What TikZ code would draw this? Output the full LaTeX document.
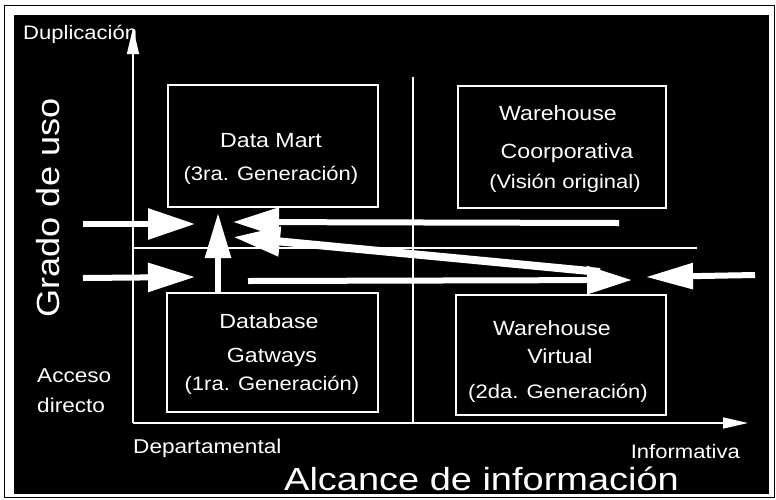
\documentclass[tikz,border=0pt]{standalone}
\usepackage{fontspec}
\setmainfont[FakeStretch=1.13]{Liberation Sans}
\usetikzlibrary{arrows.meta}
\tikzset{
  ln/.style={white, line width=1.2pt},
  axis/.style={white, line width=1.5pt},
  box/.style={draw=white, line width=1.2pt, inner sep=0pt, rectangle},
  ttl/.style={text=white, anchor=base, inner sep=0pt, font=\fontsize{20.5}{24}\selectfont},
  sub/.style={text=white, anchor=base, inner sep=0pt, font=\fontsize{19.5}{23}\selectfont},
  lbl/.style={text=white, inner sep=0pt, font=\fontsize{20}{24}\selectfont},
  big/.style={text=white, inner sep=0pt, font=\fontsize{32}{38}\selectfont},
  fat/.style={white, line width=6pt, -{Triangle[length=46pt, width=28pt]}}
}
\begin{document}
\begin{tikzpicture}[x=1pt,y=-1pt]
\useasboundingbox (0,0) rectangle (776,499);
\fill[white] (0,0) rectangle (776,499);
\draw[black, line width=1pt] (4,5) rectangle (774,497);
\fill[black] (14,15) rectangle (769,494);

% axes and dividers
\coordinate (O) at (133,423);
\coordinate (Ytop) at (133,28);
\coordinate (Xend) at (748,423);
\coordinate (Vt) at (413,77);
\coordinate (Vb) at (413,423);
\coordinate (Hl) at (133,248);
\coordinate (Hr) at (697,248);
\draw[axis, -{Triangle[length=26pt, width=12pt]}] (O) -- (Ytop);
\draw[axis, -{Triangle[length=25pt, width=11pt]}] (O) -- (Xend);
\draw[ln] (Vt) -- (Vb);
\draw[ln] (Hl) -- (Hr);

% boxes
\node[box, minimum width=210pt, minimum height=122pt] (dm) at (273,146) {};
\node[box, minimum width=208pt, minimum height=122pt] (wc) at (562,147) {};
\node[box, minimum width=211pt, minimum height=119pt] (dg) at (272.5,352.5) {};
\node[box, minimum width=210pt, minimum height=120pt] (wv) at (561,355) {};

% box texts
\node[ttl] (dm1) at (271,147) {Data Mart};
\node[sub] (dm2) at (271,180) {(3ra. Generación)};
\node[ttl] (wc1) at (558,120) {Warehouse};
\node[ttl] (wc2) at (567,158) {Coorporativa};
\node[sub] (wc3) at (565,188) {(Visión original)};
\node[ttl] (dg1) at (269,328) {Database};
\node[ttl] (dg2) at (272,362) {Gatways};
\node[sub] (dg3) at (272,390) {(1ra. Generación)};
\node[ttl] (wv1) at (552,335) {Warehouse};
\node[ttl] (wv2) at (560,363) {Virtual};
\node[sub] (wv3) at (558,398) {(2da. Generación)};

% axis labels
\node[lbl, anchor=base west, font=\fontsize{19.5}{23}\selectfont] (dup) at (23,39) {Duplicación};
\node[big, rotate=90, anchor=base] (grado) at (59,208) {Grado de uso};
\node[lbl, anchor=base west] (acc1) at (37,382) {Acceso};
\node[lbl, anchor=base west] (acc2) at (37,412) {directo};
\node[lbl, anchor=base west] (dep) at (133,453) {Departamental};
\node[lbl, anchor=base east, font=\fontsize{19.5}{23}\selectfont] (inf) at (740,458) {Informativa};
\node[big, anchor=base west] (alc) at (284,490) {\scalebox{1.05}[1]{Alcance de información}};

% thick arrows
\coordinate (a1s) at (83,224);  \coordinate (a1e) at (195,224);
\coordinate (a2s) at (83,278);  \coordinate (a2e) at (195,277);
\coordinate (a3s) at (218,293); \coordinate (a3e) at (218,213);
\coordinate (a4s) at (619,223); \coordinate (a4e) at (233,222);
\coordinate (a5s) at (600,272); \coordinate (a5e) at (233,237);
\coordinate (a6s) at (248,281); \coordinate (a6e) at (632,280);
\coordinate (a7s) at (755,275); \coordinate (a7e) at (646,277);
\draw[fat, -{Triangle[length=47pt, width=30pt]}] (a1s) -- (a1e);
\draw[fat, -{Triangle[length=47pt, width=28pt]}] (a2s) -- (a2e);
\draw[fat, -{Triangle[length=45pt, width=25pt]}] (a3s) -- (a3e);
\draw[fat] (a4s) -- (a4e);
\draw[fat, line width=8pt, -{Triangle[length=47pt, width=28pt]}] (a5s) -- (a5e);
\draw[fat, -{Triangle[length=45pt, width=27pt]}] (a6s) -- (a6e);
\draw[fat, -{Triangle[length=47pt, width=25pt]}] (a7s) -- (a7e);
\end{tikzpicture}
\end{document}
